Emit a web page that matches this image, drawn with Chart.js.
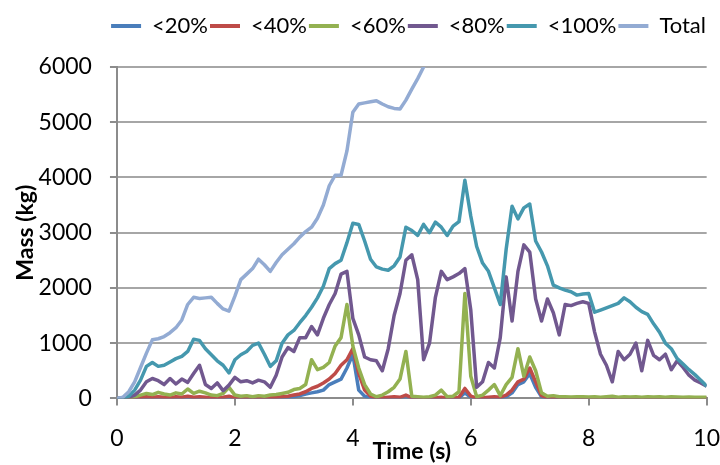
<!DOCTYPE html>
<html>
<head>
<meta charset="utf-8">
<script src="https://cdn.jsdelivr.net/npm/chart.js@4.4.0/dist/chart.umd.min.js"></script>
<style>
  html, body { margin: 0; padding: 0; background: #fff; }
  #wrap { width: 720px; height: 465px; }
</style>
</head>
<body>
<div id="wrap"><canvas id="myChart" width="720" height="465"></canvas></div>
<script>
// time axis (s), one sample every 0.1 s
var time = [0,0.1,0.2,0.3,0.4,0.5,0.6,0.7,0.8,0.9,
  1,1.1,1.2,1.3,1.4,1.5,1.6,1.7,1.8,1.9,
  2,2.1,2.2,2.3,2.4,2.5,2.6,2.7,2.8,2.9,
  3,3.1,3.2,3.3,3.4,3.5,3.6,3.7,3.8,3.9,
  4,4.1,4.2,4.3,4.4,4.5,4.6,4.7,4.8,4.9,
  5,5.1,5.2,5.3,5.4,5.5,5.6,5.7,5.8,5.9,
  6,6.1,6.2,6.3,6.4,6.5,6.6,6.7,6.8,6.9,
  7,7.1,7.2,7.3,7.4,7.5,7.6,7.7,7.8,7.9,
  8,8.1,8.2,8.3,8.4,8.5,8.6,8.7,8.8,8.9,
  9,9.1,9.2,9.3,9.4,9.5,9.6,9.7,9.8,9.9,
  10];

// mass (kg) per series
var below20 = [0,0,0,0,10,10,10,10,10,5,
  10,10,20,10,10,10,5,5,10,20,
  5,5,5,5,5,5,10,10,10,20,
  30,50,80,100,120,150,250,300,350,550,
  800,150,40,10,5,5,10,10,10,30,
  5,5,0,5,5,10,0,5,10,100,
  20,5,5,10,10,10,30,100,250,300,
  450,200,30,5,0,0,0,0,0,0,
  0,0,0,0,0,0,0,0,0,0,
  0,0,0,0,0,0,0,0,0,0,
  0];
var below40 = [0,0,0,10,20,30,20,30,20,10,
  30,20,40,20,30,20,10,10,20,40,
  10,10,10,10,10,10,20,20,30,40,
  60,80,120,180,220,280,350,450,600,700,
  900,450,150,40,10,10,20,30,20,60,
  10,10,5,10,10,20,5,10,20,180,
  40,10,10,20,30,20,60,150,300,350,
  550,300,50,10,5,5,5,5,5,5,
  5,5,5,5,5,5,5,5,5,5,
  5,5,5,5,5,5,5,5,5,5,
  5];
var below60 = [0,0,10,30,60,90,70,110,80,60,
  100,80,170,90,130,100,60,50,90,200,
  60,40,50,30,50,40,60,70,90,110,
  160,180,250,700,520,560,650,950,1100,1700,
  950,550,250,80,30,60,120,200,350,850,
  40,30,20,30,60,150,30,40,120,1900,
  400,30,60,150,250,50,250,380,900,400,
  750,500,100,40,50,30,30,25,30,30,
  25,30,20,30,40,20,30,25,30,20,
  30,25,30,20,30,25,20,25,20,20,
  20];
var below80 = [0,0,20,60,150,300,360,320,250,360,
  260,350,290,450,600,250,180,280,140,240,
  380,300,320,280,330,300,200,420,750,920,
  850,1100,1100,1300,1150,1450,1700,1900,2250,2300,
  1450,1150,750,700,680,500,900,1500,1900,2500,
  2600,2150,700,1000,1830,2300,2150,2200,2260,2350,
  1600,200,300,650,550,1100,2200,1400,2300,2780,
  2650,1800,1400,1800,1550,1150,1700,1680,1720,1750,
  1720,1200,800,600,300,850,700,800,1000,500,
  1050,780,700,800,520,680,560,420,330,280,
  220];
var below100 = [0,0,40,150,330,580,650,580,600,660,
  720,760,850,1070,1050,900,790,680,600,460,
  700,790,850,960,1000,800,580,680,1000,1150,
  1230,1370,1500,1650,1820,2030,2350,2440,2500,2820,
  3170,3150,2850,2520,2380,2340,2320,2400,2560,3100,
  3040,2950,3150,3000,3190,3100,2950,3120,3200,3950,
  3300,2750,2450,2300,2000,1700,2700,3480,3250,3450,
  3520,2850,2650,2400,2050,2000,1960,1930,1870,1890,
  1900,1560,1600,1640,1680,1720,1820,1750,1650,1570,
  1520,1350,1200,1000,900,720,620,520,430,330,
  220];
// total runs off the top of the axis after about 5.2 s
var total = [0,20,120,300,560,820,1060,1080,1120,1190,
  1280,1420,1700,1830,1810,1820,1830,1720,1620,1580,
  1850,2150,2250,2350,2520,2420,2300,2460,2600,2700,
  2800,2920,3020,3100,3260,3500,3850,4040,4040,4480,
  5180,5330,5350,5370,5390,5330,5280,5250,5240,5400,
  5600,5790,6000,6250];

var seriesNames = ["<20%", "<40%", "<60%", "<80%", "<100%", "Total"];
var seriesValues = [below20, below40, below60, below80, below100, total];
var seriesColors = ["#4A7EBB", "#BE4B48", "#93B151", "#71588F", "#4598AE", "#93ABD3"];

function toPoints(values) {
  var pts = [];
  for (var i = 0; i < values.length; i++) {
    pts.push({ x: time[i], y: values[i] });
  }
  return pts;
}

var datasets = [];
for (var s = 0; s < seriesNames.length; s++) {
  datasets.push({
    label: seriesNames[s],
    data: toPoints(seriesValues[s]),
    borderColor: seriesColors[s],
    backgroundColor: seriesColors[s],
    borderWidth: 3.5,
    pointRadius: 0,
    tension: 0,
    borderJoinStyle: "round",
    order: seriesNames.length - s // later series drawn on top, like Excel
  });
}

var font = "Lato, 'Open Sans', sans-serif";
var axisGrey = "#8C8C8C";

// extra room under the legend
var legendSpacing = {
  id: "legendSpacing",
  beforeInit: function (chart) {
    var fit = chart.legend.fit;
    chart.legend.fit = function () {
      fit.call(this);
      this.height += 20;
    };
  }
};

var ctx = document.getElementById("myChart").getContext("2d");
var myChart = new Chart(ctx, {
  type: "line",
  data: { datasets: datasets },
  plugins: [legendSpacing],
  options: {
    responsive: false,
    animation: false,
    layout: { padding: { left: 12, right: 12, top: 13, bottom: 0 } },
    plugins: {
      tooltip: { enabled: false },
      legend: {
        position: "top",
        align: "end",
        labels: {
          font: { family: font, size: 22 },
          color: "#000",
          boxWidth: 30,
          boxHeight: 4,
          padding: 2,
          sort: function (a, b) { return a.datasetIndex - b.datasetIndex; },
          generateLabels: function (chart) {
            var items = Chart.defaults.plugins.legend.labels.generateLabels(chart);
            items.forEach(function (it) {
              it.fillStyle = it.strokeStyle;
              it.lineWidth = 0;
            });
            return items;
          }
        }
      }
    },
    scales: {
      x: {
        type: "linear",
        min: 0,
        max: 10,
        ticks: {
          stepSize: 2,
          font: { family: font, size: 23, lineHeight: 2.87 },
          color: "#000",
          padding: 0,
          maxRotation: 0,
          callback: function (v) { return String(v); }
        },
        grid: {
          drawOnChartArea: false,
          drawTicks: true,
          tickLength: 7,
          tickColor: axisGrey,
          lineWidth: 2
        },
        border: { color: axisGrey, width: 2 },
        title: {
          display: true,
          text: "Time (s)",
          font: { family: font, size: 23, weight: "bold" },
          color: "#000",
          padding: { top: -34, bottom: 0 }
        }
      },
      y: {
        min: 0,
        max: 6000,
        ticks: {
          stepSize: 1000,
          font: { family: font, size: 23 },
          color: "#000",
          padding: 18,
          callback: function (v) { return String(v); }
        },
        grid: {
          color: "#A6A6A6",
          lineWidth: 2,
          tickLength: 7,
          tickColor: axisGrey
        },
        border: { color: axisGrey, width: 2 },
        title: {
          display: true,
          text: "Mass (kg)",
          font: { family: font, size: 23, weight: "bold" },
          color: "#000",
          padding: { top: 0, bottom: -19 }
        }
      }
    }
  }
});
</script>
</body>
</html>
